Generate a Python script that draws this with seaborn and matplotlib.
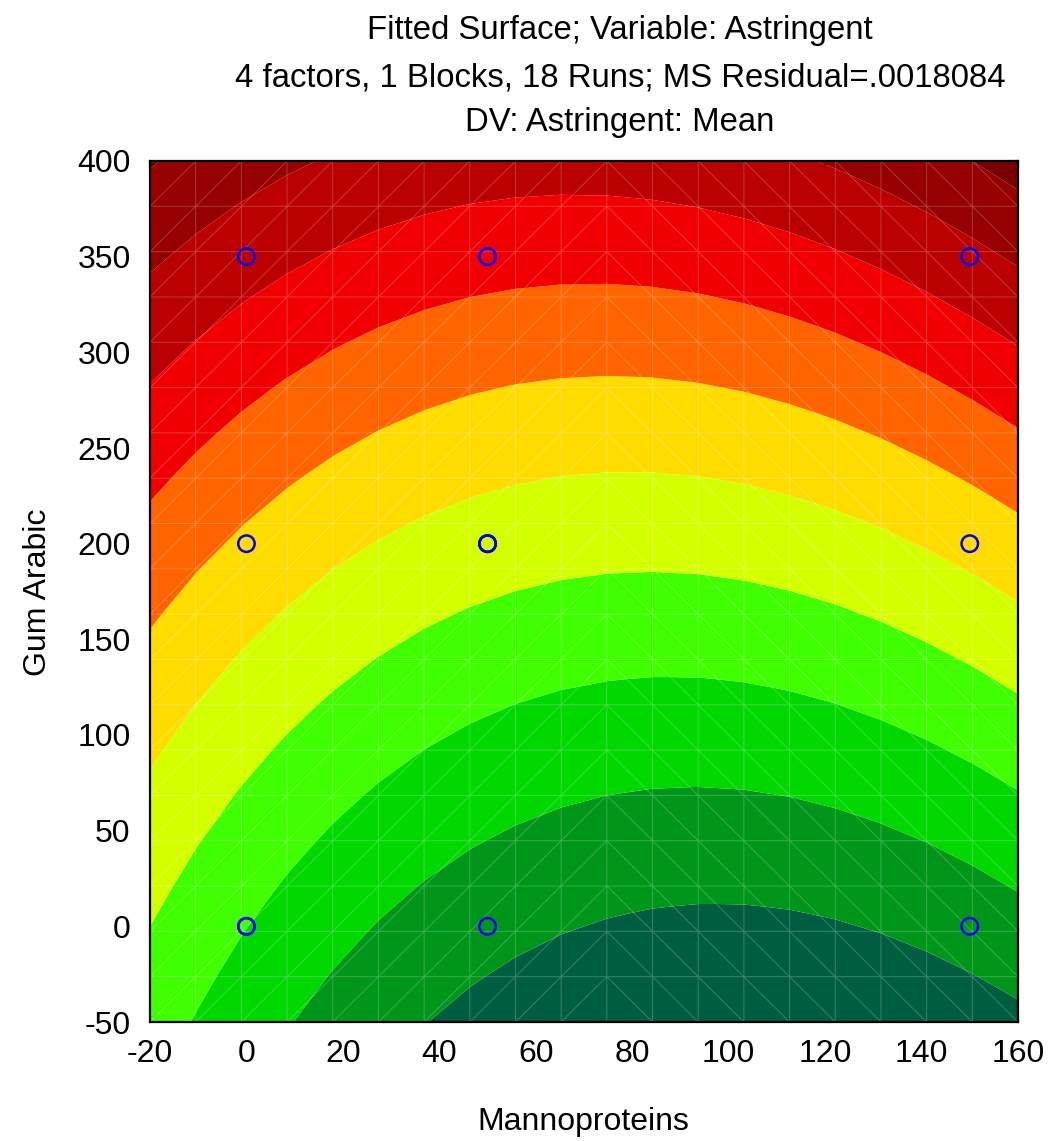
import numpy as np
import matplotlib
matplotlib.use("Agg")
import matplotlib.pyplot as plt
import matplotlib.tri as mtri
import seaborn as sns

# Mean astringency at the design points of the Mannoproteins x Gum Arabic slice
design_mannoproteins = [0, 50, 150, 0, 50, 150, 0, 50, 150]
design_gum_arabic = [0, 0, 0, 200, 200, 200, 350, 350, 350]
astringent_mean = [3.014, 1.344, 1.416, 5.819, 4.515, 5.318, 8.422, 7.392, 8.743]

# Individual runs drawn on top of the surface (replicated points overlap)
run_mannoproteins = [0, 0, 50, 150, 0, 50, 50, 50, 150, 0, 50, 150]
run_gum_arabic = [0, 0, 0, 0, 200, 200, 200, 200, 200, 350, 350, 350]

# Contour bands of the fitted surface, low to high
contour_levels = [-5, 1, 2, 3, 4, 5, 6, 7, 8, 9, 10, 20]
band_colors = ["#005e40", "#00961a", "#00d800", "#40ff00", "#d4ff00",
               "#ffdc00", "#ff6400", "#f00000", "#ba0000", "#960000", "#780000"]

x_ticks = [-20, 0, 20, 40, 60, 80, 100, 120, 140, 160]
y_ticks = [-50, 0, 50, 100, 150, 200, 250, 300, 350, 400]

title_lines = ["Fitted Surface; Variable: Astringent",
               "4 factors, 1 Blocks, 18 Runs; MS Residual=.0018084",
               "DV: Astringent: Mean"]

sns.set_theme(style="white")
plt.rcParams["font.family"] = ["Liberation Sans", "DejaVu Sans"]
FS = 23

# Second-order response surface fitted by least squares
dx = np.asarray(design_mannoproteins, float)
dy = np.asarray(design_gum_arabic, float)
dz = np.asarray(astringent_mean, float)
design = np.column_stack([np.ones_like(dx), dx, dy, dx**2, dx*dy, dy**2])
coef, *_ = np.linalg.lstsq(design, dz, rcond=None)

def surface(x, y):
    return (coef[0] + coef[1]*x + coef[2]*y + coef[3]*x**2
            + coef[4]*x*y + coef[5]*y**2)

# Triangulated evaluation grid
n = 20
gx = np.linspace(x_ticks[0], x_ticks[-1], n)
gy = np.linspace(y_ticks[0], y_ticks[-1], n)
GX, GY = np.meshgrid(gx, gy)
px, py = GX.ravel(), GY.ravel()
tris = []
for j in range(n - 1):
    for i in range(n - 1):
        p00 = j*n + i
        p10 = j*n + i + 1
        p01 = (j+1)*n + i
        p11 = (j+1)*n + i + 1
        if i < n // 2:
            tris += [[p00, p10, p11], [p00, p11, p01]]
        else:
            tris += [[p00, p10, p01], [p10, p11, p01]]
tri = mtri.Triangulation(px, py, np.array(tris))
pz = surface(px, py)

fig = plt.figure(figsize=(10.53, 11.41), dpi=100)
ax = fig.add_axes([150/1053, 1 - 1022/1141, 868/1053, 861/1141])

ax.tricontourf(tri, pz, levels=contour_levels, colors=band_colors, antialiased=True)
ax.triplot(tri, color="white", lw=0.7, alpha=0.22)

sns.scatterplot(x=run_mannoproteins, y=run_gum_arabic, ax=ax, marker="o",
                s=140, linewidth=1.8, legend=False, zorder=5)
pts = ax.collections[-1]
pts.set_sizes([140])
pts.set_linewidth(1.8)
pts.set_facecolor("none")
pts.set_edgecolor("#0000ff")
pts.set_clip_on(False)

ax.set_xlim(x_ticks[0], x_ticks[-1])
ax.set_ylim(y_ticks[0], y_ticks[-1])
ax.set_xticks(x_ticks)
ax.set_yticks(y_ticks)
ax.set_xticklabels([str(v) for v in x_ticks])
ax.set_yticklabels([str(v) for v in y_ticks])
ax.tick_params(direction="in", length=6, width=1.5, colors="black",
               top=True, right=True, labelsize=FS)
ax.tick_params(axis="x", pad=12)
ax.tick_params(axis="y", pad=14)
for sp in ax.spines.values():
    sp.set_visible(True)
    sp.set_color("black")
    sp.set_linewidth(1.6)
    sp.set_zorder(10)

ax.set_xlabel("Mannoproteins", fontsize=FS, va="center", color="black")
ax.xaxis.set_label_coords((583 - 150)/868, (1022 - 1122)/861)
ax.set_ylabel("Gum Arabic", fontsize=FS, va="center", ha="center", color="black")
ax.yaxis.set_label_coords((38 - 150)/868, (1022 - 592)/861)

for txt, ypx in zip(title_lines, [30, 78, 123]):
    fig.text(620/1053, 1 - ypx/1141, txt, ha="center", va="center",
             fontsize=23.7, color="black")

fig.savefig("out.png", dpi=100, facecolor="white")
